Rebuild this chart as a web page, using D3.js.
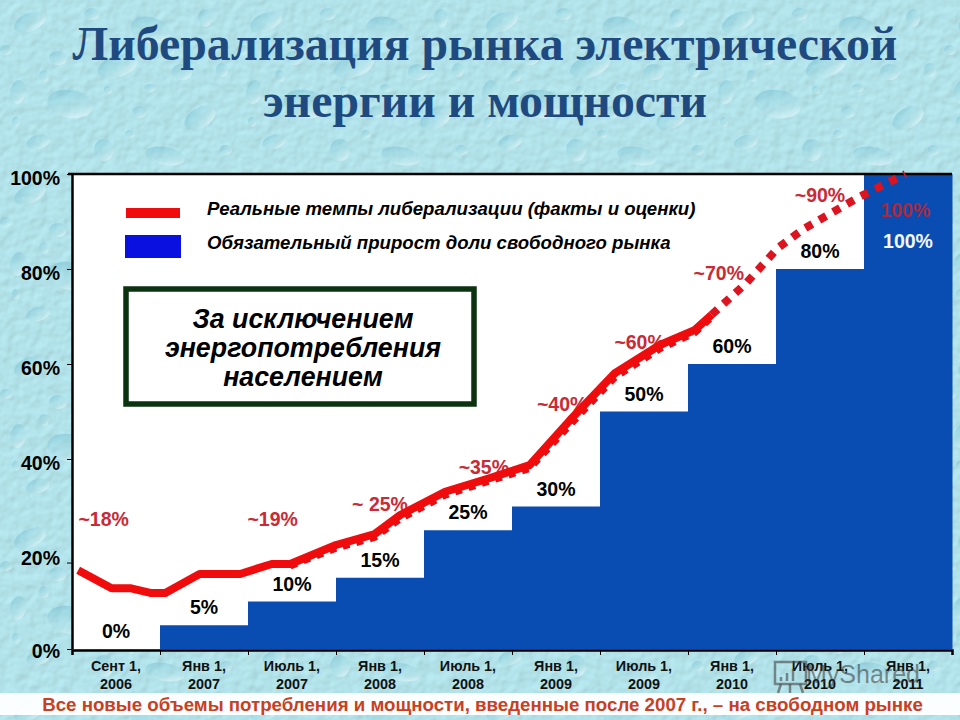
<!DOCTYPE html>
<html lang="ru">
<head>
<meta charset="utf-8">
<title>Либерализация рынка</title>
<script src="https://d3js.org/d3.v7.min.js"></script>
<style>
  html, body { margin: 0; padding: 0; background: #aedde6; overflow: hidden; }
  svg { display: block; }
  text { font-family: "Liberation Sans", Arial, sans-serif; }
</style>
</head>
<body>
<div id="viz"></div>
<script>
// periods on the x axis (two lines per label)
var periods = ["Сент 1,|2006", "Янв 1,|2007", "Июль 1,|2007", "Янв 1,|2008", "Июль 1,|2008",
               "Янв 1,|2009", "Июль 1,|2009", "Янв 1,|2010", "Июль 1,|2010", "Янв 1,|2011"];
// required share of the free market, percent
var required = [0, 5, 10, 15, 25, 30, 50, 60, 80, 100];
var yTicks = [0, 20, 40, 60, 80, 100];
// tick marks as they sit on the picture, the 20% one is drawn low there
var yMarks = [0, 18.2, 40, 60, 80, 100];

// real pace, x is counted in periods from Sept 2006, y in percent
var factX = [0.07, 0.45, 0.66, 0.89, 1.06, 1.45, 1.91, 2.27, 2.48, 3.0, 3.44, 3.73, 4.24, 4.75, 5.2, 5.66, 6.17, 6.68, 7.08, 7.27];
var factY = [16.6, 12.8, 12.8, 11.8, 11.8, 15.8, 15.8, 17.9, 17.9, 21.9, 24.2, 28.2, 33.1, 36.0, 38.7, 48.2, 58.1, 64, 67.2, 70.4];
// dashed line that peeks out under the solid part
var dashX = [2.48, 3.0, 3.44, 3.73, 4.24, 4.75, 5.2, 5.66, 6.17, 6.68, 7.08, 7.27];
var dashY = [17.5, 21.2, 23.5, 27.4, 32.4, 35.4, 38.0, 47.2, 57.2, 63.2, 66.6, 69.9];
// estimate, dotted
var estX = [7.27, 7.66, 8.02, 8.31, 8.95, 9.47];
var estY = [70.4, 77, 84.4, 88.4, 95.2, 100];

// red labels above the line
var noteText = ["~18%", "~19%", "~ 25%", "~35%", "~40%", "~60%", "~70%", "~90%", "100%"];
var noteX = [0.36, 2.28, 3.5, 4.68, 5.57, 6.45, 7.35, 8.5, 9.47];
var noteY = [27.4, 27.4, 30.5, 38.3, 51.6, 64.6, 79.2, 95.6, 92.4];

// one tile of the water drops wallpaper: [cx, cy, rx, ry, angle]
var dropTile = [
  [30, 22, 17, 9, -25], [92, 14, 8, 6, 0], [150, 30, 20, 13, 15], [205, 18, 7, 9, 0],
  [58, 58, 9, 7, 0], [118, 66, 21, 11, -20], [182, 72, 10, 8, 0], [18, 92, 8, 12, 10],
  [70, 104, 23, 14, 10], [140, 112, 7, 6, 0], [200, 118, 17, 10, -30], [38, 142, 12, 7, -15],
  [104, 150, 10, 11, 0], [165, 156, 20, 9, 10], [222, 70, 6, 7, 0], [6, 50, 6, 5, 0],
  [84, 38, 5, 4, 0], [170, 50, 5, 5, 0], [44, 76, 5, 6, 0], [150, 88, 6, 4, 0],
  [108, 90, 4, 4, 0], [226, 150, 6, 5, 0], [16, 122, 4, 5, 0], [130, 134, 5, 4, 0]
];

var svg = d3.select("#viz").append("svg")
    .attr("width", 960)
    .attr("height", 720);

var defs = svg.append("defs");

// soft mottling under the drops
var filter = defs.append("filter")
    .attr("id", "mottle")
    .attr("x", 0).attr("y", 0).attr("width", "100%").attr("height", "100%");
filter.append("feTurbulence")
    .attr("type", "fractalNoise")
    .attr("baseFrequency", 0.09)
    .attr("numOctaves", 2)
    .attr("seed", 4)
    .attr("result", "noise");
filter.append("feDiffuseLighting")
    .attr("in", "noise")
    .attr("surfaceScale", 1.1)
    .attr("diffuseConstant", 1.12)
    .attr("lighting-color", "#b3e3ea")
  .append("feDistantLight")
    .attr("azimuth", 235)
    .attr("elevation", 62);

var grad = defs.append("linearGradient")
    .attr("id", "drop")
    .attr("x1", 0).attr("y1", 0).attr("x2", 0.7).attr("y2", 1);
grad.append("stop").attr("offset", 0).attr("stop-color", "#5fb2c8").attr("stop-opacity", 0.55);
grad.append("stop").attr("offset", 0.55).attr("stop-color", "#9ad6e2").attr("stop-opacity", 0.3);
grad.append("stop").attr("offset", 1).attr("stop-color", "#e4f8fa").attr("stop-opacity", 0.75);

var tile = defs.append("pattern")
    .attr("id", "drops")
    .attr("patternUnits", "userSpaceOnUse")
    .attr("width", 236)
    .attr("height", 172);
tile.selectAll("ellipse")
    .data(dropTile)
    .join("ellipse")
    .attr("cx", function (d) { return d[0]; })
    .attr("cy", function (d) { return d[1]; })
    .attr("rx", function (d) { return d[2]; })
    .attr("ry", function (d) { return d[3]; })
    .attr("transform", function (d) { return "rotate(" + d[4] + " " + d[0] + " " + d[1] + ")"; })
    .attr("fill", "url(#drop)");

svg.append("rect")
    .attr("width", 960).attr("height", 720)
    .attr("filter", "url(#mottle)");
svg.append("rect")
    .attr("width", 960).attr("height", 720)
    .attr("fill", "url(#drops)");

// title
svg.append("g").selectAll("text")
    .data(["Либерализация рынка электрической", "энергии и мощности"])
    .join("text")
    .attr("x", 485)
    .attr("y", function (d, i) { return 60 + i * 57; })
    .attr("text-anchor", "middle")
    .style("font-family", "'Liberation Serif', serif")
    .style("font-weight", "bold")
    .style("font-size", "47.8px")
    .style("fill", "#1f4a80")
    .text(function (d) { return d; });

// scales
var x = d3.scaleLinear().domain([0, 10]).range([72, 952]);
var band = d3.scaleBand().domain(periods).range([72, 952]);
var y = d3.scaleLinear().domain([0, 100]).range([649, 174]);

svg.append("rect")
    .attr("x", 72).attr("y", 174)
    .attr("width", 880).attr("height", 475)
    .style("fill", "#fff");

// blue steps
svg.append("g").selectAll("rect")
    .data(periods)
    .join("rect")
    .attr("x", function (d) { return band(d); })
    .attr("y", function (d, i) { return y(required[i]); })
    .attr("width", band.bandwidth() + 0.5)
    .attr("height", function (d, i) { return y(0) - y(required[i]); })
    .style("fill", "#0a4db2");

// y axis, labels and marks apart
var yAxis = svg.append("g")
    .attr("transform", "translate(72,0)")
    .call(d3.axisLeft(y).tickValues(yTicks).tickSize(0).tickPadding(12).tickFormat(function (d) { return d + "%"; }));
yAxis.select(".domain").attr("stroke", "#000").attr("stroke-width", 2.5);
yAxis.selectAll("text")
    .attr("dy", function (d) { return d == 0 ? "0.42em" : "0.56em"; })
    .style("font-size", "19.5px")
    .style("font-weight", "bold")
    .style("fill", "#000");
var yMarkAxis = svg.append("g")
    .attr("transform", "translate(72,0)")
    .call(d3.axisLeft(y).tickValues(yMarks).tickSize(5).tickFormat(""));
yMarkAxis.select(".domain").remove();

// x axis
var xAxis = svg.append("g")
    .attr("transform", "translate(0,650)")
    .call(d3.axisBottom(x).ticks(10).tickSize(5).tickFormat(""));
xAxis.select(".domain").attr("stroke", "#000").attr("stroke-width", 2.5);

svg.append("line")
    .attr("x1", 68).attr("x2", 952)
    .attr("y1", 174).attr("y2", 174)
    .attr("stroke", "#000").attr("stroke-width", 2.5);

var xLabels = svg.append("g").selectAll("text")
    .data(periods)
    .join("text")
    .attr("text-anchor", "middle")
    .style("font-size", "14.4px")
    .style("font-weight", "bold")
    .style("fill", "#111");
xLabels.append("tspan")
    .attr("x", function (d) { return band(d) + band.bandwidth() / 2; })
    .attr("y", 671)
    .text(function (d) { return d.split("|")[0]; });
xLabels.append("tspan")
    .attr("x", function (d) { return band(d) + band.bandwidth() / 2; })
    .attr("y", 689)
    .text(function (d) { return d.split("|")[1]; });

// values over the steps, the last one sits inside the bar
svg.append("g").selectAll("text")
    .data(periods)
    .join("text")
    .attr("x", function (d) { return band(d) + band.bandwidth() / 2; })
    .attr("y", function (d, i) { return required[i] == 100 ? y(100) + 74 : y(required[i]) - 11; })
    .attr("text-anchor", "middle")
    .style("font-size", "19.5px")
    .style("font-weight", "bold")
    .style("fill", function (d, i) { return required[i] == 100 ? "#f2f8ff" : "#000"; })
    .text(function (d, i) { return required[i] + "%"; });

// red labels go under the line
svg.append("g").selectAll("text")
    .data(noteText)
    .join("text")
    .attr("x", function (d, i) { return x(noteX[i]); })
    .attr("y", function (d, i) { return y(noteY[i]) + 7; })
    .attr("text-anchor", "middle")
    .style("font-size", "19.5px")
    .style("font-weight", "bold")
    .style("fill", function (d, i) { return i == 8 ? "#a8283f" : "#c92a35"; })
    .text(function (d) { return d; });

var line = d3.line()
    .x(function (d) { return x(d[0]); })
    .y(function (d) { return y(d[1]); });

svg.append("path")
    .datum(d3.zip(dashX, dashY))
    .attr("d", line)
    .attr("fill", "none")
    .attr("stroke", "#e0101a")
    .attr("stroke-width", 7)
    .attr("stroke-dasharray", "7,7");
svg.append("path")
    .datum(d3.zip(factX, factY))
    .attr("d", line)
    .attr("fill", "none")
    .attr("stroke", "#f00c0c")
    .attr("stroke-width", 8)
    .attr("stroke-linejoin", "round");
svg.append("path")
    .datum(d3.zip(estX, estY))
    .attr("d", line)
    .attr("fill", "none")
    .attr("stroke", "#dc1420")
    .attr("stroke-width", 8)
    .attr("stroke-dasharray", "8,8");

// legend
svg.append("rect")
    .attr("x", 126).attr("y", 208).attr("width", 54).attr("height", 10)
    .style("fill", "#f00c0c");
svg.append("rect")
    .attr("x", 125).attr("y", 235).attr("width", 56).attr("height", 23)
    .style("fill", "#0a10e0");
svg.append("g").selectAll("text")
    .data(["Реальные темпы либерализации (факты и оценки)", "Обязательный прирост доли свободного рынка"])
    .join("text")
    .attr("x", 207)
    .attr("y", function (d, i) { return 215 + i * 34; })
    .style("font-size", "18.6px")
    .style("font-weight", "bold")
    .style("font-style", "italic")
    .style("fill", "#000")
    .text(function (d) { return d; });

// note box
svg.append("rect")
    .attr("x", 126).attr("y", 289).attr("width", 348).attr("height", 115)
    .style("fill", "#fff")
    .style("stroke", "#0b3310")
    .style("stroke-width", 5.5);
svg.append("g").selectAll("text")
    .data(["За исключением", "энергопотребления", "населением"])
    .join("text")
    .attr("x", 303)
    .attr("y", function (d, i) { return 328 + i * 29; })
    .attr("text-anchor", "middle")
    .style("font-size", "26.8px")
    .style("font-weight", "bold")
    .style("font-style", "italic")
    .style("fill", "#000")
    .text(function (d) { return d; });

// footer strip
svg.append("rect")
    .attr("x", 0).attr("y", 693).attr("width", 960).attr("height", 22)
    .style("fill", "#fff")
    .style("fill-opacity", 0.95);
svg.append("text")
    .attr("x", 482.5)
    .attr("y", 710.5)
    .attr("text-anchor", "middle")
    .style("font-size", "18.7px")
    .style("font-weight", "bold")
    .style("fill", "#c8401f")
    .text("Все новые объемы потребления и мощности, введенные после 2007 г., – на свободном рынке");

// watermark of the source picture
var mark = svg.append("g")
    .attr("fill", "none")
    .attr("stroke", "#444")
    .attr("stroke-opacity", 0.6)
    .attr("stroke-width", 2.5);
mark.append("rect").attr("x", 775).attr("y", 662).attr("width", 31).attr("height", 22);
mark.append("path").attr("d", "M781 677v4M787 673v8M793 669v12M781 684l-3 9M800 684l3 9M790 684v9");
svg.append("text")
    .attr("x", 806)
    .attr("y", 683)
    .style("font-size", "25px")
    .style("fill", "#333")
    .style("fill-opacity", 0.55)
    .text("MyShared");
</script>
</body>
</html>
